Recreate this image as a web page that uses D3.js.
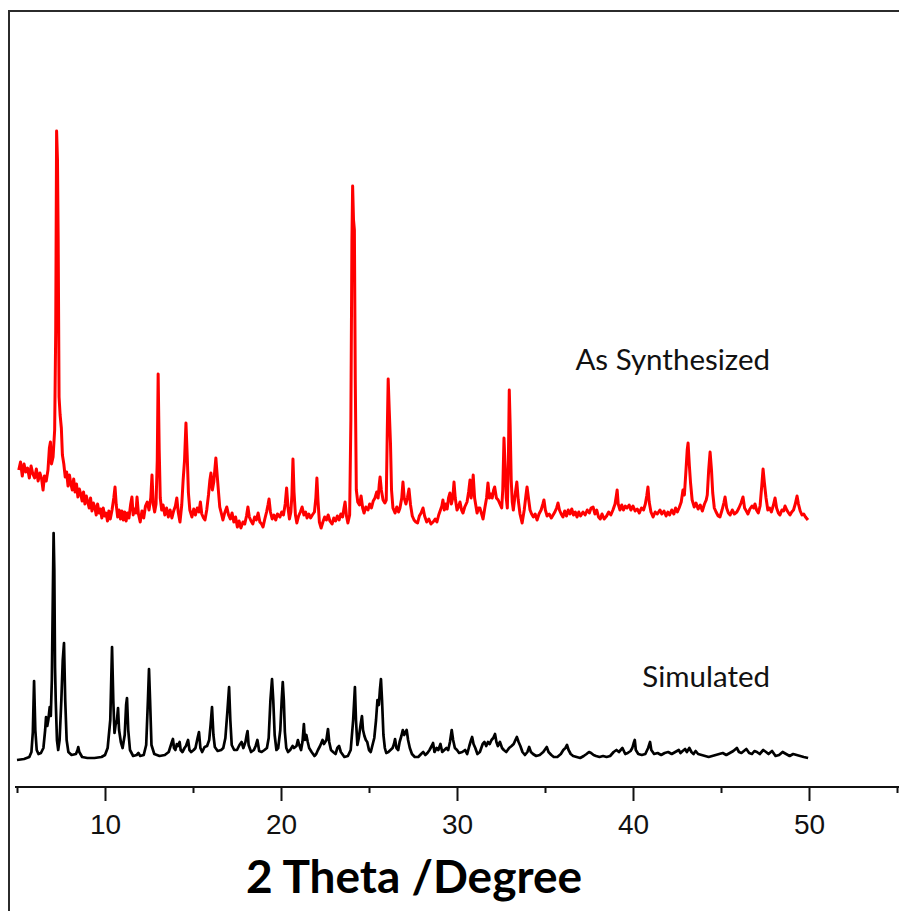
<!DOCTYPE html>
<html>
<head>
<meta charset="utf-8">
<script src="https://cdn.jsdelivr.net/npm/d3@7"></script>
<style>
  body { margin: 0; background: #fff; }
</style>
</head>
<body>
<div id="chart"></div>
<script>
// x axis ticks (2 theta, degrees)
const majorTicks = [10, 20, 30, 40, 50];
const minorTicks = [5, 15, 25, 35, 45, 55];
const seriesNames = ['As Synthesized', 'Simulated'];

// [2theta, intensity (a.u., stacked offset)]
const asSynthesized = [
  [5.10,290],[5.20,298],[5.30,284],[5.40,296],[5.50,288],[5.60,292],[5.70,282],[5.80,294],[5.90,286],[6.00,282],
  [6.10,291],[6.20,279],[6.30,287],[6.40,281],[6.48,270],[6.56,284],[6.66,279],[6.76,290],[6.84,312],[6.90,318],
  [6.96,296],[7.05,303],[7.14,330],[7.20,430],[7.25,629],[7.30,600],[7.34,520],[7.39,363],[7.45,345],[7.52,332],
  [7.58,305],[7.66,296],[7.74,283],[7.82,288],[7.90,274],[7.98,285],[8.06,276],[8.14,270],[8.22,281],[8.30,268],
  [8.38,276],[8.46,263],[8.54,271],[8.62,266],[8.70,259],[8.78,268],[8.86,256],[8.94,264],[9.02,258],[9.10,252],
  [9.18,262],[9.26,249],[9.34,257],[9.42,253],[9.50,245],[9.58,256],[9.66,247],[9.74,251],[9.82,242],[9.90,252],
  [9.98,244],[10.06,247],[10.14,239],[10.22,249],[10.30,241],[10.40,250],[10.50,262],[10.57,273],[10.64,255],[10.72,243],
  [10.80,250],[10.88,241],[10.96,249],[11.04,240],[11.12,248],[11.20,239],[11.28,247],[11.36,242],[11.46,256],[11.53,263],
  [11.60,245],[11.68,251],[11.76,247],[11.82,263],[11.90,246],[12.00,238],[12.10,249],[12.20,242],[12.30,254],[12.40,258],
  [12.50,250],[12.60,262],[12.67,285],[12.74,256],[12.82,248],[12.90,256],[12.97,300],[13.02,386],[13.08,310],[13.14,262],
  [13.22,250],[13.30,255],[13.40,245],[13.50,252],[13.60,243],[13.70,250],[13.80,242],[13.90,249],[14.00,254],[14.08,262],
  [14.16,248],[14.26,238],[14.36,255],[14.44,280],[14.52,300],[14.60,337],[14.67,305],[14.74,267],[14.82,250],[14.94,243],
  [15.04,251],[15.14,245],[15.24,252],[15.34,248],[15.42,258],[15.50,246],[15.60,242],[15.68,240],[15.78,250],[15.88,265],
  [15.96,280],[16.02,287],[16.10,270],[16.18,278],[16.24,290],[16.30,302],[16.36,288],[16.44,270],[16.52,253],[16.62,246],
  [16.70,240],[16.80,247],[16.92,253],[17.02,245],[17.12,241],[17.22,247],[17.32,238],[17.42,243],[17.52,233],[17.62,239],
  [17.72,232],[17.84,238],[17.94,236],[18.04,244],[18.12,253],[18.20,243],[18.30,239],[18.40,236],[18.50,243],[18.60,240],
  [18.70,247],[18.80,238],[18.90,236],[18.98,233],[19.08,241],[19.18,248],[19.26,255],[19.32,261],[19.40,248],[19.50,241],
  [19.60,245],[19.70,240],[19.80,246],[19.94,243],[20.04,248],[20.14,245],[20.24,256],[20.32,272],[20.40,252],[20.48,241],
  [20.56,248],[20.62,265],[20.68,301],[20.74,268],[20.82,245],[20.90,237],[21.00,244],[21.10,248],[21.20,253],[21.30,245],
  [21.40,248],[21.48,242],[21.58,246],[21.68,242],[21.78,245],[21.90,248],[21.98,262],[22.04,282],[22.10,260],[22.18,238],
  [22.28,232],[22.38,238],[22.48,243],[22.58,240],[22.68,245],[22.78,239],[22.90,236],[23.00,242],[23.10,239],[23.20,244],
  [23.30,240],[23.40,246],[23.50,243],[23.58,252],[23.64,258],[23.72,244],[23.80,237],[23.90,245],[23.97,340],[24.03,520],
  [24.07,574],[24.12,540],[24.17,530],[24.22,380],[24.28,270],[24.36,258],[24.46,255],[24.55,264],[24.64,252],[24.72,247],
  [24.82,253],[24.94,250],[25.04,256],[25.14,252],[25.24,259],[25.34,262],[25.44,268],[25.52,262],[25.58,275],[25.63,283],
  [25.70,270],[25.80,260],[25.90,257],[25.98,260],[26.04,330],[26.09,381],[26.15,350],[26.22,317],[26.28,270],[26.36,252],
  [26.48,247],[26.58,253],[26.68,248],[26.76,252],[26.86,262],[26.93,278],[27.00,262],[27.10,256],[27.18,262],[27.27,271],
  [27.36,255],[27.46,244],[27.56,240],[27.66,238],[27.76,237],[27.86,244],[27.96,247],[28.07,252],[28.16,244],[28.28,238],
  [28.40,241],[28.52,236],[28.64,238],[28.76,241],[28.86,238],[28.96,245],[29.06,250],[29.14,254],[29.20,260],[29.28,250],
  [29.36,256],[29.44,251],[29.52,262],[29.60,267],[29.68,256],[29.76,262],[29.83,278],[29.90,262],[30.00,250],[30.08,253],
  [30.17,258],[30.26,250],[30.34,247],[30.44,253],[30.57,258],[30.66,268],[30.74,280],[30.80,262],[30.86,268],[30.92,285],
  [31.00,262],[31.14,247],[31.22,252],[31.30,252],[31.40,246],[31.48,241],[31.58,252],[31.68,262],[31.76,277],[31.84,262],
  [31.92,266],[32.00,262],[32.08,270],[32.14,273],[32.24,262],[32.34,260],[32.44,256],[32.54,252],[32.60,270],[32.67,322],
  [32.74,290],[32.80,262],[32.86,252],[32.92,300],[32.97,370],[33.02,335],[33.08,280],[33.14,258],[33.20,250],[33.28,262],
  [33.40,278],[33.48,260],[33.58,246],[33.70,237],[33.82,250],[33.92,265],[33.98,273],[34.06,262],[34.15,250],[34.24,246],
  [34.34,243],[34.44,246],[34.55,240],[34.66,246],[34.78,250],[34.88,256],[34.94,260],[35.02,250],[35.12,244],[35.24,246],
  [35.36,242],[35.46,245],[35.56,248],[35.66,252],[35.74,257],[35.82,250],[35.92,246],[36.02,243],[36.12,249],[36.22,244],
  [36.32,250],[36.42,246],[36.52,251],[36.62,245],[36.72,248],[36.82,243],[36.92,248],[37.02,244],[37.16,248],[37.28,245],
  [37.40,250],[37.52,247],[37.62,252],[37.73,253],[37.84,246],[37.94,250],[38.04,243],[38.14,241],[38.24,246],[38.36,241],
  [38.50,244],[38.62,248],[38.74,245],[38.86,250],[38.98,256],[39.06,265],[39.10,270],[39.16,256],[39.26,250],[39.36,255],
  [39.46,250],[39.56,254],[39.66,252],[39.78,255],[39.88,250],[40.00,254],[40.12,249],[40.24,251],[40.36,247],[40.48,252],
  [40.60,250],[40.70,256],[40.78,264],[40.85,273],[40.92,258],[41.02,248],[41.14,243],[41.26,248],[41.38,246],[41.53,250],
  [41.64,246],[41.76,249],[41.88,244],[41.98,248],[42.08,245],[42.20,250],[42.32,246],[42.42,252],[42.52,248],[42.62,252],
  [42.74,258],[42.84,270],[42.92,265],[43.00,287],[43.08,310],[43.13,317],[43.20,295],[43.27,277],[43.36,260],[43.48,253],
  [43.58,257],[43.70,251],[43.82,255],[43.94,249],[44.06,256],[44.16,260],[44.22,265],[44.30,290],[44.38,308],[44.46,290],
  [44.53,267],[44.62,252],[44.72,248],[44.84,244],[44.94,243],[45.06,250],[45.16,257],[45.23,263],[45.32,252],[45.42,247],
  [45.52,245],[45.64,250],[45.76,246],[45.90,248],[46.02,252],[46.14,257],[46.25,263],[46.34,252],[46.44,249],[46.53,246],
  [46.64,251],[46.76,254],[46.86,252],[46.93,256],[47.02,250],[47.12,247],[47.22,254],[47.32,275],[47.39,291],[47.46,278],
  [47.56,262],[47.66,250],[47.76,252],[47.86,248],[47.98,255],[48.07,262],[48.16,252],[48.26,247],[48.35,245],[48.46,250],
  [48.56,249],[48.64,254],[48.74,250],[48.84,247],[48.92,245],[49.02,248],[49.12,250],[49.22,256],[49.32,264],[49.40,256],
  [49.50,249],[49.60,245],[49.70,246],[49.80,243],[49.94,240]
];

const simulated = [
  [5.00,0],[5.40,1],[5.70,3],[5.82,8],[5.90,28],[5.97,79],[6.04,30],[6.12,10],[6.22,6],[6.36,7],
  [6.50,12],[6.60,30],[6.65,43],[6.72,34],[6.78,40],[6.86,53],[6.92,44],[6.98,80],[7.04,170],[7.08,227],
  [7.12,190],[7.16,93],[7.20,60],[7.27,20],[7.34,10],[7.42,20],[7.52,60],[7.60,100],[7.67,117],[7.74,60],
  [7.82,20],[7.92,8],[8.10,5],[8.35,6],[8.44,10],[8.48,13],[8.54,8],[8.70,3],[9.00,2],[9.40,2],
  [9.80,3],[10.00,5],[10.15,12],[10.30,40],[10.40,113],[10.47,60],[10.54,27],[10.60,35],[10.68,40],[10.74,52],
  [10.80,30],[10.90,18],[11.00,12],[11.12,25],[11.20,55],[11.25,62],[11.32,30],[11.42,10],[11.60,4],[11.80,5],
  [11.90,7],[12.00,4],[12.20,5],[12.34,15],[12.44,60],[12.50,91],[12.56,60],[12.64,15],[12.80,6],[13.10,4],
  [13.40,5],[13.62,8],[13.80,18],[13.86,21],[13.92,12],[14.00,10],[14.08,16],[14.14,14],[14.24,18],[14.30,10],
  [14.40,8],[14.52,12],[14.60,14],[14.72,20],[14.80,10],[14.90,8],[15.04,10],[15.14,12],[15.26,22],[15.34,28],
  [15.42,12],[15.52,8],[15.66,13],[15.80,14],[15.92,20],[16.00,35],[16.08,53],[16.16,25],[16.24,13],[16.40,9],
  [16.60,10],[16.72,12],[16.84,22],[16.96,50],[17.05,73],[17.12,40],[17.20,15],[17.34,10],[17.50,10],[17.64,15],
  [17.76,18],[17.86,12],[17.98,18],[18.05,25],[18.10,29],[18.16,15],[18.30,8],[18.46,10],[18.56,14],[18.66,20],
  [18.76,9],[18.90,8],[19.06,10],[19.20,12],[19.30,22],[19.40,60],[19.49,81],[19.56,60],[19.64,25],[19.74,10],
  [19.84,12],[19.96,30],[20.04,60],[20.10,78],[20.16,60],[20.22,28],[20.30,12],[20.40,8],[20.52,10],[20.66,14],
  [20.74,12],[20.88,14],[20.96,20],[21.04,15],[21.14,10],[21.22,18],[21.30,36],[21.36,20],[21.44,25],[21.52,18],
  [21.60,12],[21.74,8],[21.90,4],[22.00,6],[22.10,10],[22.22,14],[22.36,20],[22.44,16],[22.58,20],[22.67,31],
  [22.74,18],[22.84,10],[22.96,8],[23.10,6],[23.20,12],[23.30,14],[23.40,8],[23.60,3],[23.80,4],[23.96,10],
  [24.10,40],[24.20,73],[24.26,40],[24.34,15],[24.42,22],[24.52,35],[24.60,44],[24.66,30],[24.74,24],[24.82,20],
  [24.90,18],[25.00,10],[25.10,8],[25.20,15],[25.30,22],[25.40,40],[25.48,60],[25.56,55],[25.62,70],[25.68,81],
  [25.74,60],[25.82,25],[25.90,12],[25.98,7],[26.10,8],[26.22,10],[26.34,12],[26.42,16],[26.48,21],[26.56,12],
  [26.66,10],[26.74,18],[26.84,24],[26.92,30],[27.00,25],[27.08,28],[27.14,30],[27.22,20],[27.32,12],[27.44,6],
  [27.60,3],[27.80,3],[27.96,6],[28.08,8],[28.20,5],[28.32,7],[28.44,10],[28.56,14],[28.64,17],[28.72,8],
  [28.84,12],[28.94,10],[29.06,16],[29.16,8],[29.28,10],[29.40,12],[29.50,10],[29.60,18],[29.70,30],[29.78,20],
  [29.88,12],[30.00,10],[30.12,7],[30.30,8],[30.46,10],[30.58,6],[30.70,14],[30.80,20],[30.86,23],[30.94,16],
  [31.04,12],[31.16,6],[31.30,8],[31.46,16],[31.56,18],[31.66,14],[31.76,18],[31.86,16],[31.96,20],[32.06,22],
  [32.16,26],[32.24,18],[32.32,14],[32.44,18],[32.56,12],[32.66,10],[32.80,8],[32.96,12],[33.10,14],[33.22,16],
  [33.32,20],[33.40,23],[33.50,18],[33.60,14],[33.72,8],[33.86,5],[34.00,8],[34.10,13],[34.20,8],[34.32,6],
  [34.50,4],[34.70,5],[34.90,8],[35.02,11],[35.10,13],[35.20,8],[35.36,5],[35.50,3],[35.70,3],[35.90,6],
  [36.04,10],[36.16,12],[36.25,15],[36.34,10],[36.46,6],[36.60,4],[36.80,3],[37.00,2],[37.20,4],[37.36,6],
  [37.50,8],[37.62,7],[37.76,5],[37.90,4],[38.10,3],[38.30,4],[38.50,3],[38.70,4],[38.90,8],[39.06,10],
  [39.20,8],[39.40,12],[39.56,6],[39.70,7],[39.86,9],[39.96,12],[40.04,17],[40.10,20],[40.16,10],[40.30,6],
  [40.50,5],[40.70,6],[40.86,12],[40.97,18],[41.04,10],[41.20,6],[41.40,7],[41.60,5],[41.80,7],[42.00,8],
  [42.20,6],[42.40,8],[42.60,10],[42.70,7],[42.82,9],[42.96,11],[43.06,8],[43.20,12],[43.32,8],[43.44,6],
  [43.56,9],[43.70,6],[43.90,5],[44.10,4],[44.30,3],[44.50,4],[44.70,5],[44.90,6],[45.10,7],[45.30,5],
  [45.50,7],[45.70,9],[45.90,12],[46.02,8],[46.16,7],[46.30,9],[46.44,11],[46.60,7],[46.76,6],[46.90,9],
  [47.04,8],[47.20,6],[47.40,10],[47.56,8],[47.70,6],[47.90,9],[48.10,4],[48.30,5],[48.50,8],[48.70,6],
  [48.90,4],[49.10,6],[49.30,5],[49.50,4],[49.70,3],[49.95,2]
];

const width = 899;
const height = 911;

const svg = d3.select('#chart')
  .append('svg')
  .attr('width', width)
  .attr('height', height)
  .style('background', '#fff');

// Scales
const x = d3.scaleLinear().domain([5, 55]).range([17, 897]);
const y = d3.scaleLinear().domain([0, 650]).range([760, 110]);
const axisY = 787;

// outer frame
svg.append('rect')
  .attr('x', 9).attr('y', 11)
  .attr('width', width + 10).attr('height', height + 10)
  .attr('fill', 'none')
  .attr('stroke', '#2b2b2b')
  .attr('stroke-width', 2);

// x axis
const xAxis = d3.axisBottom(x)
  .tickValues(majorTicks)
  .tickSize(14)
  .tickSizeOuter(0)
  .tickPadding(13)
  .tickFormat(d3.format('d'));

const gx = svg.append('g')
  .attr('transform', `translate(0,${axisY})`)
  .call(xAxis);
gx.select('.domain').remove();
gx.selectAll('line').attr('stroke', '#111').attr('stroke-width', 2);
gx.selectAll('text')
  .attr('fill', '#111')
  .style('font-family', '"Liberation Sans", Arial, sans-serif')
  .style('font-size', '28px');

const gMinor = svg.append('g')
  .attr('transform', `translate(0,${axisY})`)
  .call(d3.axisBottom(x).tickValues(minorTicks).tickSize(6).tickSizeOuter(0).tickFormat(''));
gMinor.select('.domain').remove();
gMinor.selectAll('line').attr('stroke', '#111').attr('stroke-width', 2);

svg.append('line')
  .attr('x1', 15).attr('x2', width)
  .attr('y1', axisY).attr('y2', axisY)
  .attr('stroke', '#111')
  .attr('stroke-width', 2);

// axis title
svg.append('text')
  .attr('x', 414)
  .attr('y', 893)
  .attr('text-anchor', 'middle')
  .style('font-family', 'Lato, "Open Sans", sans-serif')
  .style('font-weight', 700)
  .style('font-size', '46px')
  .attr('fill', '#000')
  .text('2 Theta /Degree');

// patterns
const line = d3.line()
  .x(d => x(d[0]))
  .y(d => y(d[1]));

svg.append('path')
  .datum(simulated)
  .attr('d', line)
  .attr('fill', 'none')
  .attr('stroke', '#000')
  .attr('stroke-width', 2.7)
  .attr('stroke-linejoin', 'round');

svg.append('path')
  .datum(asSynthesized)
  .attr('d', line)
  .attr('fill', 'none')
  .attr('stroke', '#f00')
  .attr('stroke-width', 3)
  .attr('stroke-linejoin', 'round');

// series labels
const labelPos = [{ x: 770, y: 370 }, { x: 770, y: 687 }];
svg.selectAll('.series-label')
  .data(seriesNames)
  .enter()
  .append('text')
  .attr('class', 'series-label')
  .attr('x', (d, i) => labelPos[i].x)
  .attr('y', (d, i) => labelPos[i].y)
  .attr('text-anchor', 'end')
  .style('font-family', 'Lato, "Open Sans", sans-serif')
  .style('font-size', '29.5px')
  .attr('fill', '#111')
  .text(d => d);
</script>
</body>
</html>
